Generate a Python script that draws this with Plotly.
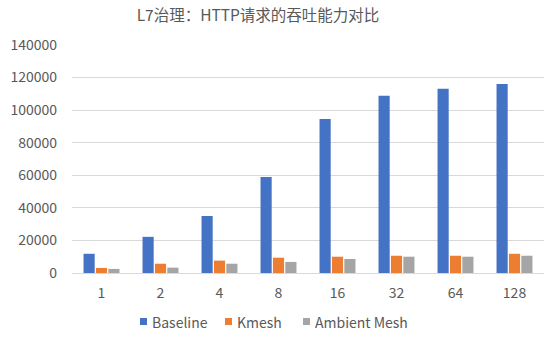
import plotly.graph_objects as go

# Concurrency levels and measured HTTP throughput
categories = ["1", "2", "4", "8", "16", "32", "64", "128"]
baseline = [11800, 22200, 35000, 58900, 94500, 108800, 113100, 116100]
kmesh = [3100, 5700, 7600, 9400, 10000, 10600, 10600, 11800]
ambient = [2500, 3300, 5700, 6800, 8600, 10000, 10000, 10600]

series = [
    ("Baseline", baseline, "#4472C4"),
    ("Kmesh", kmesh, "#ED7D31"),
    ("Ambient Mesh", ambient, "#A5A5A5"),
]

FONT = "Noto Sans CJK SC, Noto Sans, sans-serif"
TEXT = "#595959"
W, H = 555, 339
M = dict(l=72, r=11, t=45, b=66)

fig = go.Figure()
for name, vals, color in series:
    fig.add_trace(go.Bar(x=categories, y=vals, name=name, marker_color=color,
                         marker_line_width=0, showlegend=False))

# Legend row below the plot: small square key + label, positioned in pixels
pw = W - M["l"] - M["r"]
ph = H - M["t"] - M["b"]
def px_x(x):
    return (x - M["l"]) / pw
def px_y(y):
    return (H - M["b"] - y) / ph

legend_x = [140, 225, 303]
key = 7
ly = 321.5
for (name, _, color), lx in zip(series, legend_x):
    fig.add_shape(type="rect", xref="paper", yref="paper",
                  x0=px_x(lx), x1=px_x(lx + key),
                  y0=px_y(ly + key / 2), y1=px_y(ly - key / 2),
                  fillcolor=color, line_width=0)
    fig.add_annotation(text=name, xref="paper", yref="paper",
                       x=px_x(lx + key + 3), y=px_y(ly), xanchor="left", yanchor="middle",
                       showarrow=False, font=dict(size=14, color=TEXT))

fig.update_layout(
    width=W, height=H,
    margin=dict(**M, autoexpand=False),
    paper_bgcolor="white", plot_bgcolor="white",
    font=dict(family=FONT, size=14, color=TEXT),
    title=dict(text="L7治理：HTTP请求的吞吐能力对比", x=258 / W, xanchor="center",
               y=1 - 16 / H, yanchor="middle", font=dict(size=15.5, color=TEXT)),
    barmode="group", bargap=0.37, bargroupgap=0.1,
    showlegend=False,
)
fig.update_yaxes(range=[0, 140000], dtick=20000, showgrid=True, gridcolor="#D9D9D9",
                 gridwidth=1, zeroline=False, showline=False, ticks="",
                 tickformat="d", tickfont=dict(size=14, color=TEXT), ticklabelstandoff=14)
fig.update_xaxes(showline=True, linecolor="#D9D9D9", linewidth=1, ticks="",
                 tickfont=dict(size=14, color=TEXT), showgrid=False, ticklabelstandoff=7)

fig.write_html("out.html")
